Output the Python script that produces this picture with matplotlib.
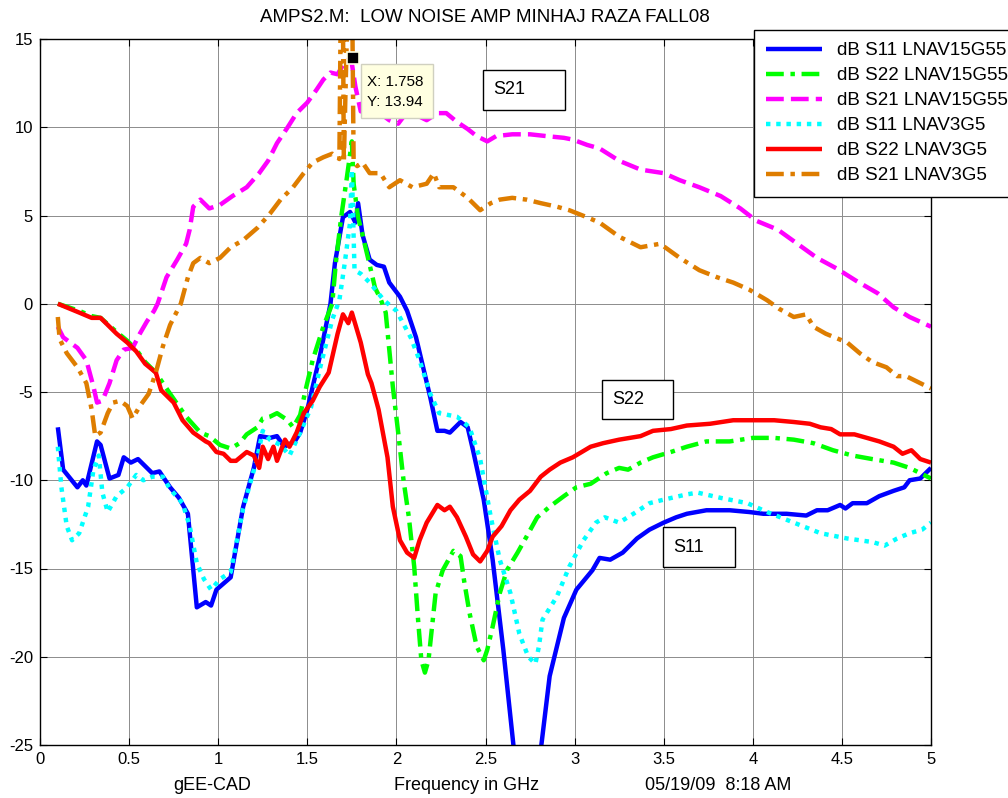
import matplotlib
matplotlib.use("Agg")
import matplotlib.pyplot as plt
from matplotlib.patches import Rectangle

plt.rcParams['font.family'] = ['Liberation Sans', 'DejaVu Sans']

# ---------------- data ----------------
title_text = "AMPS2.M:  LOW NOISE AMP MINHAJ RAZA FALL08"
xlabel_left = "gEE-CAD"
xlabel_mid = "Frequency in GHz"
xlabel_right = "05/19/09  8:18 AM"
xticks = [0, 0.5, 1, 1.5, 2, 2.5, 3, 3.5, 4, 4.5, 5]
xtick_labels = ["0", "0.5", "1", "1.5", "2", "2.5", "3", "3.5", "4", "4.5", "5"]
yticks = [-25, -20, -15, -10, -5, 0, 5, 10, 15]
ytick_labels = ["-25", "-20", "-15", "-10", "-5", "0", "5", "10", "15"]

labels = ["dB S11 LNAV15G55", "dB S22 LNAV15G55", "dB S21 LNAV15G55",
          "dB S11 LNAV3G5", "dB S22 LNAV3G5", "dB S21 LNAV3G5"]

s11_15_x = [0.10,0.13,0.21,0.24,0.26,0.32,0.34,0.39,0.44,0.47,0.51,0.55,0.59,0.63,0.67,0.73,0.78,0.83,0.88,0.93,0.96,0.99,1.07,1.14,1.20,1.235,1.29,1.33,1.37,1.43,1.46,1.50,1.57,1.63,1.655,1.70,1.74,1.77,1.785,1.81,1.85,1.89,1.93,1.96,2.02,2.06,2.11,2.15,2.19,2.23,2.27,2.30,2.36,2.40,2.43,2.49,2.54,2.60,2.73,2.86,2.94,3.01,3.10,3.14,3.20,3.27,3.35,3.42,3.50,3.57,3.63,3.74,3.87,3.98,4.06,4.19,4.30,4.36,4.42,4.49,4.52,4.56,4.64,4.71,4.79,4.85,4.88,4.94,5.00]
s11_15_y = [-7.0,-9.4,-10.4,-10.0,-10.3,-7.8,-8.0,-9.9,-9.7,-8.7,-9.0,-8.8,-9.2,-9.6,-9.5,-10.4,-11.0,-11.9,-17.2,-16.9,-17.1,-16.2,-15.5,-11.5,-9.3,-7.5,-7.6,-7.5,-8.1,-7.8,-7.3,-6.0,-3.0,0.0,2.3,4.9,5.2,4.6,5.7,3.9,2.5,2.2,2.1,1.2,0.4,-0.4,-1.9,-3.6,-5.3,-7.2,-7.2,-7.3,-6.7,-7.0,-8.3,-11.1,-14.5,-19.6,-32.0,-21.1,-17.8,-16.2,-15.1,-14.4,-14.5,-14.1,-13.3,-12.8,-12.4,-12.1,-11.9,-11.7,-11.7,-11.8,-11.9,-11.9,-12.0,-11.7,-11.7,-11.4,-11.6,-11.3,-11.3,-10.9,-10.6,-10.4,-10.0,-9.9,-9.3]

s22_15_x = [0.10,0.22,0.29,0.34,0.43,0.49,0.54,0.59,0.65,0.73,0.82,0.90,0.95,1.01,1.07,1.12,1.16,1.22,1.25,1.29,1.33,1.39,1.42,1.46,1.49,1.53,1.59,1.64,1.66,1.69,1.72,1.75,1.76,1.785,1.81,1.85,1.88,1.91,1.94,1.96,1.98,2.01,2.04,2.07,2.10,2.12,2.14,2.16,2.18,2.20,2.22,2.26,2.32,2.36,2.38,2.41,2.45,2.49,2.51,2.54,2.58,2.62,2.68,2.73,2.79,2.86,2.94,3.01,3.09,3.18,3.25,3.30,3.37,3.44,3.54,3.63,3.74,3.87,4.00,4.12,4.23,4.34,4.45,4.56,4.67,4.79,4.88,5.00]
s22_15_y = [0.0,-0.4,-0.7,-0.8,-1.6,-2.1,-2.6,-3.3,-3.9,-5.1,-6.4,-7.3,-7.5,-8.0,-8.2,-7.9,-7.4,-7.0,-6.5,-6.4,-6.2,-6.6,-7.0,-6.3,-4.9,-3.2,-1.3,0.0,2.3,4.9,7.0,9.2,6.8,4.9,3.9,2.2,0.9,0.3,-0.5,-2.6,-4.7,-7.3,-10.0,-12.1,-14.9,-17.7,-20.2,-20.9,-20.2,-18.3,-16.4,-15.1,-14.0,-14.3,-15.7,-17.5,-19.4,-20.2,-19.6,-18.3,-16.4,-15.1,-14.1,-13.2,-12.1,-11.5,-10.9,-10.4,-10.2,-9.6,-9.3,-9.4,-9.0,-8.7,-8.4,-8.1,-7.8,-7.8,-7.6,-7.6,-7.7,-7.9,-8.3,-8.6,-8.8,-9.0,-9.3,-9.9]

s21_15_x = [0.10,0.13,0.21,0.26,0.30,0.32,0.35,0.39,0.43,0.47,0.52,0.56,0.60,0.64,0.66,0.71,0.77,0.82,0.84,0.86,0.90,0.95,1.01,1.08,1.16,1.23,1.28,1.33,1.39,1.44,1.50,1.55,1.59,1.63,1.67,1.71,1.745,1.77,1.80,1.87,1.92,1.96,2.01,2.04,2.09,2.17,2.23,2.28,2.34,2.40,2.45,2.51,2.56,2.65,2.75,2.84,2.94,2.99,3.07,3.14,3.25,3.37,3.50,3.59,3.70,3.82,3.93,4.02,4.14,4.25,4.36,4.47,4.58,4.70,4.79,4.88,5.00]
s21_15_y = [-1.3,-1.9,-2.5,-3.2,-4.7,-5.6,-5.5,-4.5,-3.2,-2.6,-2.5,-1.7,-1.0,-0.4,0.0,1.5,2.5,3.4,4.2,5.5,5.9,5.4,5.6,6.1,6.6,7.4,8.1,9.1,10.0,10.8,11.4,12.1,12.7,13.1,13.0,13.7,13.94,12.3,10.9,11.0,10.7,10.4,10.2,10.6,10.8,10.4,10.8,10.8,10.3,9.9,9.5,9.2,9.5,9.6,9.6,9.5,9.4,9.3,9.0,8.8,8.1,7.6,7.4,7.0,6.6,6.1,5.4,4.7,4.2,3.4,2.6,2.0,1.3,0.6,-0.2,-0.75,-1.3]

s11_3_x = [0.10,0.12,0.15,0.18,0.22,0.27,0.30,0.33,0.35,0.38,0.43,0.49,0.54,0.58,0.63,0.69,0.73,0.80,0.84,0.88,0.92,0.96,1.01,1.07,1.14,1.22,1.25,1.29,1.35,1.40,1.46,1.52,1.57,1.64,1.68,1.71,1.74,1.75,1.765,1.80,1.85,1.93,2.00,2.08,2.13,2.19,2.24,2.34,2.41,2.47,2.53,2.58,2.64,2.69,2.74,2.78,2.80,2.82,2.90,2.97,3.05,3.12,3.17,3.25,3.33,3.42,3.50,3.63,3.69,3.82,3.97,4.08,4.23,4.38,4.53,4.67,4.74,4.81,4.88,4.95,5.00]
s11_3_y = [-8.1,-10.4,-12.6,-13.4,-13.0,-11.5,-9.4,-8.6,-10.7,-11.8,-10.9,-10.4,-9.7,-10.0,-9.8,-9.8,-10.5,-11.3,-12.6,-14.7,-15.6,-16.2,-15.6,-15.2,-11.6,-8.7,-7.2,-7.7,-8.0,-8.6,-7.3,-5.9,-3.7,-0.9,0.2,2.3,4.6,7.6,1.9,1.7,1.2,0.2,-0.4,-1.9,-3.2,-5.1,-6.2,-6.4,-7.0,-8.8,-12.1,-14.5,-16.4,-18.7,-20.0,-20.4,-19.4,-17.9,-16.6,-14.9,-13.4,-12.4,-12.1,-12.4,-11.9,-11.3,-11.1,-10.8,-10.7,-11.0,-11.3,-11.8,-12.4,-13.0,-13.3,-13.5,-13.7,-13.3,-13.0,-12.8,-12.4]

s22_3_x = [0.10,0.22,0.29,0.34,0.43,0.49,0.54,0.59,0.65,0.68,0.75,0.80,0.86,0.93,0.95,0.99,1.03,1.07,1.10,1.16,1.20,1.23,1.25,1.28,1.31,1.33,1.375,1.40,1.44,1.48,1.53,1.57,1.62,1.67,1.70,1.73,1.75,1.80,1.84,1.86,1.90,1.95,1.98,2.02,2.06,2.10,2.13,2.17,2.23,2.27,2.30,2.34,2.39,2.43,2.47,2.51,2.54,2.59,2.64,2.69,2.75,2.81,2.86,2.92,2.99,3.09,3.16,3.25,3.37,3.44,3.54,3.63,3.76,3.89,4.00,4.12,4.23,4.32,4.38,4.44,4.49,4.57,4.64,4.71,4.79,4.84,4.89,4.94,5.00]
s22_3_y = [0.0,-0.5,-0.8,-0.8,-1.7,-2.2,-2.7,-3.4,-3.9,-4.9,-5.6,-6.6,-7.3,-7.8,-7.9,-8.4,-8.5,-8.9,-8.9,-8.4,-8.6,-9.3,-8.1,-8.8,-8.1,-8.9,-7.7,-8.1,-7.3,-6.2,-5.5,-4.7,-3.9,-1.7,-0.6,-1.1,-0.5,-2.2,-4.0,-4.5,-6.0,-8.7,-11.5,-13.4,-14.1,-14.4,-13.4,-12.4,-11.4,-11.7,-11.5,-12.1,-13.2,-14.2,-14.6,-14.0,-13.2,-12.6,-11.7,-11.1,-10.6,-9.8,-9.4,-9.0,-8.7,-8.1,-7.9,-7.7,-7.5,-7.2,-7.1,-6.9,-6.8,-6.6,-6.6,-6.6,-6.7,-6.8,-7.0,-7.1,-7.4,-7.4,-7.6,-7.8,-8.1,-8.5,-8.3,-8.8,-9.0]

s21_3_x = [0.10,0.11,0.15,0.21,0.26,0.29,0.31,0.34,0.38,0.41,0.45,0.49,0.52,0.56,0.61,0.65,0.69,0.73,0.79,0.83,0.86,0.90,0.95,1.01,1.07,1.14,1.22,1.29,1.35,1.42,1.48,1.53,1.59,1.64,1.68,1.695,1.705,1.745,1.76,1.78,1.81,1.85,1.91,1.96,2.02,2.09,2.17,2.21,2.24,2.32,2.40,2.47,2.53,2.58,2.65,2.73,2.81,2.90,2.97,3.07,3.14,3.25,3.37,3.48,3.59,3.70,3.80,3.89,3.98,4.08,4.15,4.23,4.30,4.34,4.41,4.53,4.60,4.67,4.75,4.81,4.86,4.92,5.00]
s21_3_y = [-0.75,-2.0,-2.8,-3.6,-4.5,-6.0,-7.5,-7.3,-6.2,-5.6,-5.5,-5.8,-6.5,-5.8,-5.1,-3.9,-2.4,-1.2,0.0,1.5,2.3,2.6,2.3,2.6,3.2,3.6,4.3,5.1,5.9,6.6,7.4,8.0,8.3,8.5,8.2,25.0,8.0,25.0,8.0,7.8,8.0,7.4,7.4,6.6,7.0,6.6,6.8,7.4,6.6,6.6,6.0,5.3,5.7,5.9,6.0,5.9,5.7,5.5,5.3,4.9,4.6,3.8,3.2,3.4,2.6,1.9,1.5,1.2,0.8,0.2,-0.3,-0.75,-0.6,-1.3,-1.7,-2.2,-2.8,-3.3,-3.6,-4.1,-4.1,-4.4,-4.8]

datatip_x = 1.758
datatip_y = 13.94
box_labels = ["S21", "S22", "S11"]

# ---------------- figure ----------------
W, H = 1008, 798
fig = plt.figure(figsize=(W / 100, H / 100), dpi=100)
fig.patch.set_facecolor('white')


def fx(px):
    return px / W


def fy(py):
    return 1 - py / H


ax = fig.add_axes([fx(40), fy(745), fx(931) - fx(40), fy(39) - fy(745)])

lw = 3.2
series = [
    (s11_15_x, s11_15_y, '#0000FF', '-'),
    (s22_15_x, s22_15_y, '#00FF00', (0, (4.0, 1.5, 1.0, 1.5))),
    (s21_15_x, s21_15_y, '#FF00FF', (0, (4.0, 1.6))),
    (s11_3_x, s11_3_y, '#00FFFF', (0, (1.0, 1.3))),
    (s22_3_x, s22_3_y, '#FF0000', '-'),
    (s21_3_x, s21_3_y, '#DE7D00', (0, (4.0, 1.5, 1.0, 1.5))),
]
handles = []
for (xs, ys, c, ls), lab in zip(series, labels):
    h, = ax.plot(xs, ys, color=c, linestyle=ls, linewidth=lw, label=lab,
                 solid_capstyle='butt', dash_capstyle='butt')
    handles.append(h)

ax.set_xlim(0, 5)
ax.set_ylim(-25, 15)
ax.set_xticks(xticks)
ax.set_xticklabels(xtick_labels)
ax.set_yticks(yticks)
ax.set_yticklabels(ytick_labels)
ax.grid(True, color='#8c8c8c', linewidth=0.7, linestyle='-')
ax.set_axisbelow(True)
ax.tick_params(direction='in', top=True, right=True, length=5, width=0.8,
               labelsize=12, pad=5, colors='black')
for sp in ax.spines.values():
    sp.set_linewidth(1.0)
    sp.set_color('black')

# datatip marker
ax.plot([datatip_x], [datatip_y], marker='s', markersize=8, color='black',
        markeredgecolor='#FFFFE1', markeredgewidth=1.2, zorder=10)

# legend
leg = ax.legend(handles=handles, loc='upper left',
                bbox_to_anchor=(fx(754), fy(30)), bbox_transform=fig.transFigure,
                borderaxespad=0, fontsize=13.5, frameon=True, fancybox=False,
                framealpha=1, edgecolor='black', handlelength=3.0,
                handletextpad=0.8, labelspacing=0.42, borderpad=0.65)
leg.get_frame().set_linewidth(1.0)
leg.set_zorder(20)

# title and bottom labels
fig.text(fx(485), fy(17), title_text, ha='center', va='center', fontsize=13.5)
fig.text(fx(212), fy(786), xlabel_left, ha='center', va='center', fontsize=13)
fig.text(fx(467), fy(786), xlabel_mid, ha='center', va='center', fontsize=13)
fig.text(fx(718), fy(786), xlabel_right, ha='center', va='center', fontsize=13)

# text boxes
boxes = [(483, 70, 565, 110), (602, 380, 673, 419), (663, 527, 735, 567)]
for (x0, y0, x1, y1), lab in zip(boxes, box_labels):
    r = Rectangle((fx(x0), fy(y1)), fx(x1) - fx(x0), fy(y0) - fy(y1),
                  transform=fig.transFigure, facecolor='white',
                  edgecolor='black', linewidth=1.0, zorder=30)
    fig.patches.append(r)
    fig.text(fx(x0 + 10), fy((y0 + y1) / 2), lab, ha='left', va='center',
             fontsize=13, zorder=31)

# datatip box
r = Rectangle((fx(361), fy(118)), fx(433) - fx(361), fy(64) - fy(118),
              transform=fig.transFigure, facecolor='#FFFFE1',
              edgecolor='#D0D0C0', linewidth=1.0, zorder=30)
fig.patches.append(r)
fig.text(fx(367), fy(82), "X: %.3f" % datatip_x, ha='left', va='center',
         fontsize=11, zorder=31)
fig.text(fx(367), fy(102), "Y: %.2f" % datatip_y, ha='left', va='center',
         fontsize=11, zorder=31)

fig.savefig('out.png', dpi=100, facecolor='white')
